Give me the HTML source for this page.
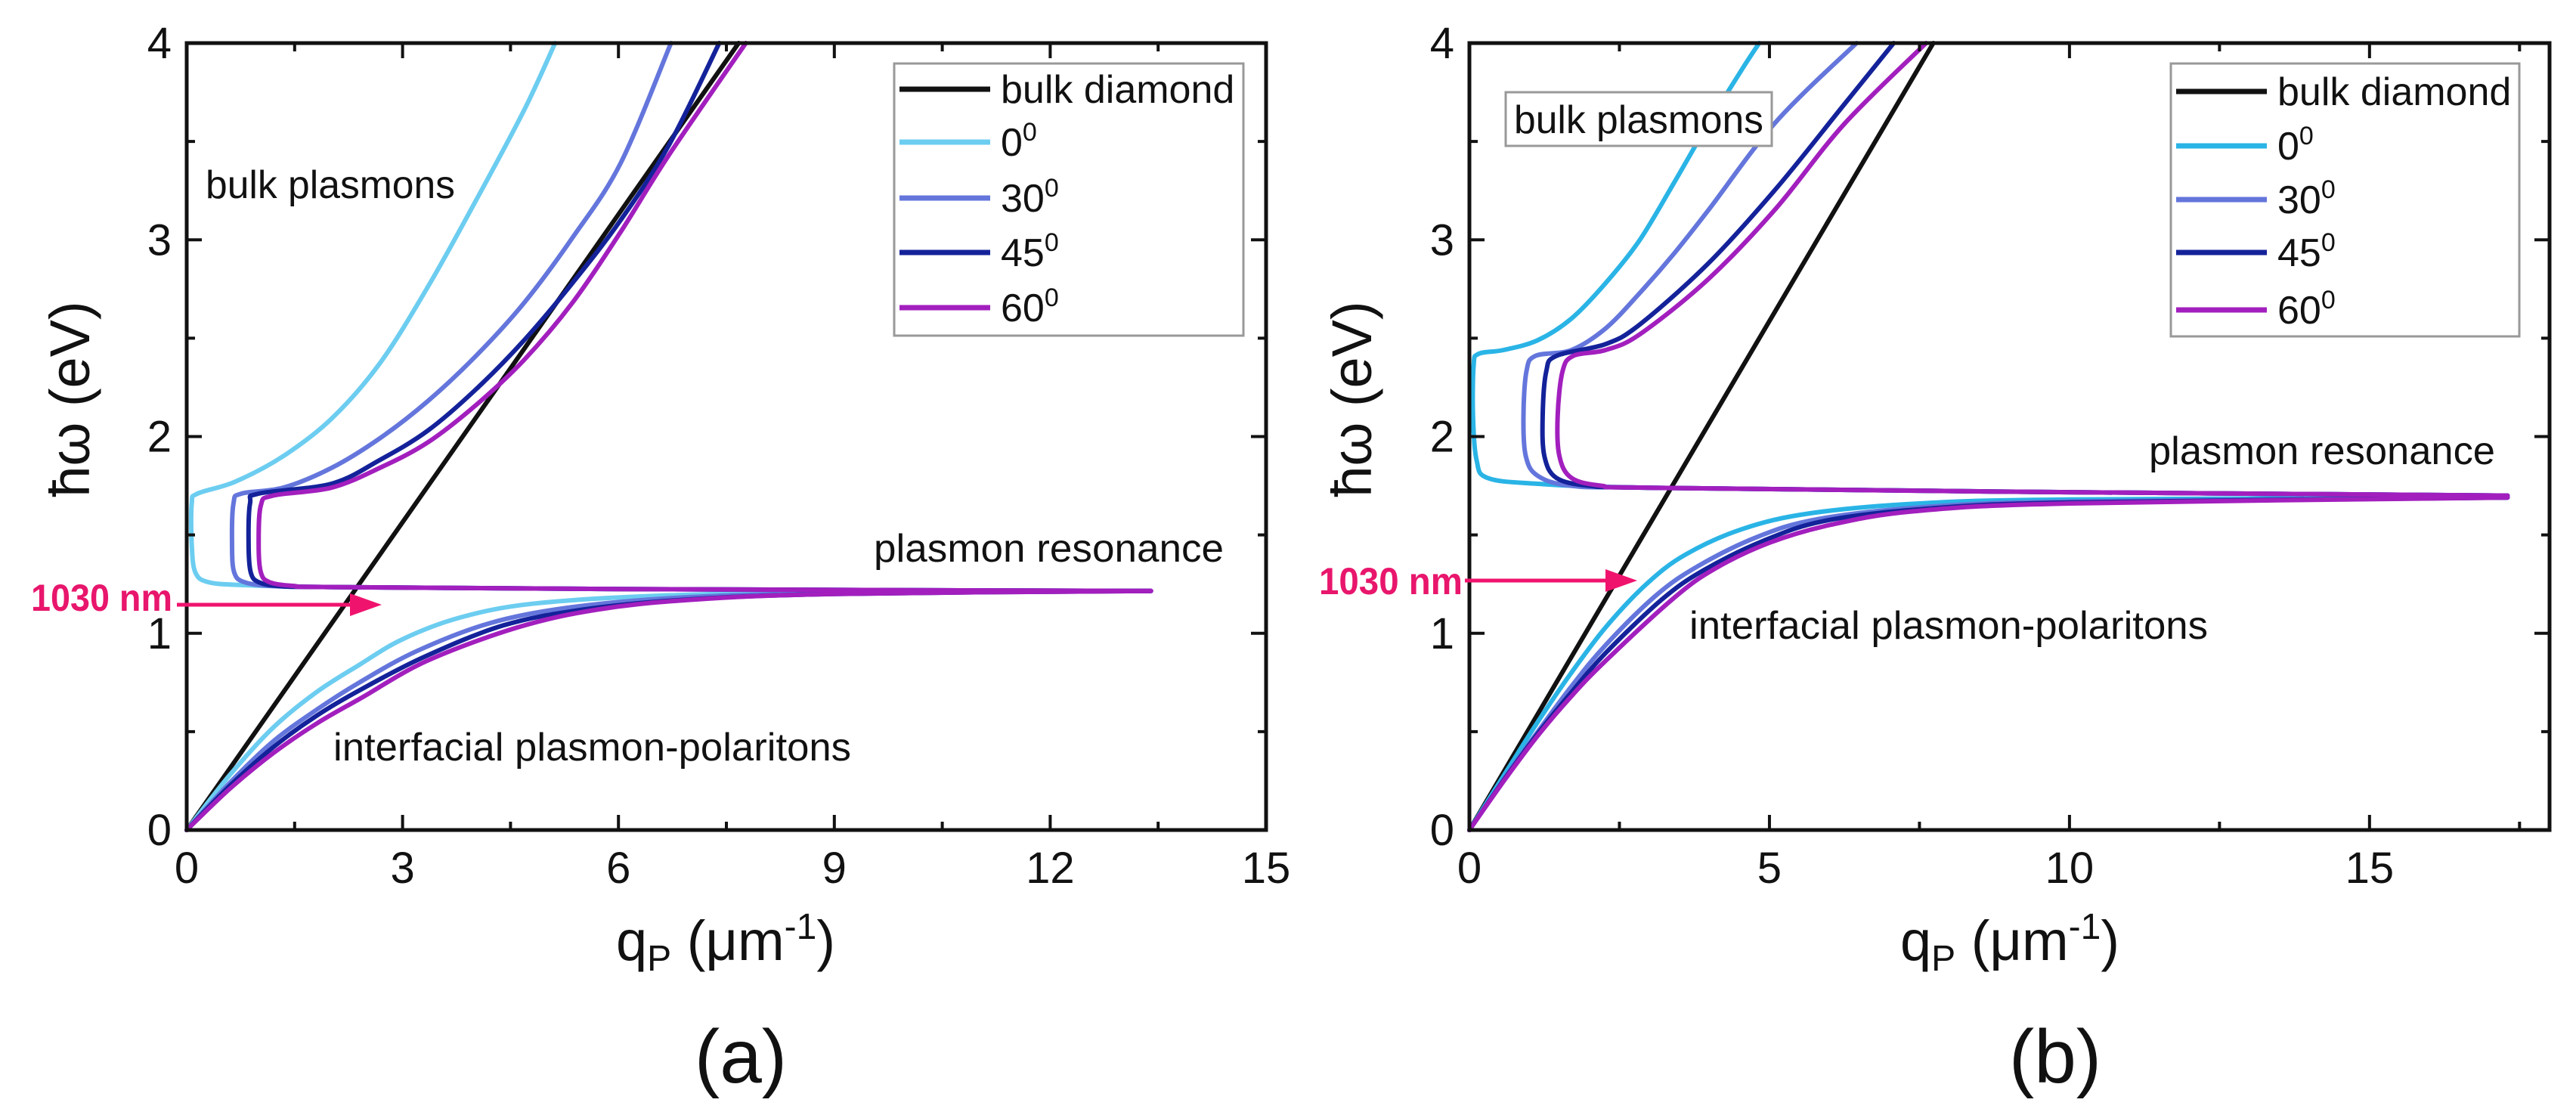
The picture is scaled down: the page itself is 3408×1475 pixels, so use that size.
<!DOCTYPE html>
<html><head><meta charset="utf-8"><style>
html,body{margin:0;padding:0;background:#fff}
svg{display:block}
text{font-family:"Liberation Sans",Arial,sans-serif;fill:#111}
</style></head><body>
<svg id="fig" width="3408" height="1475" viewBox="0 0 3408 1475" xmlns="http://www.w3.org/2000/svg">
<g id="pa"></g>
<g id="pb"></g>
</svg>
<script>
// ---------- Panel (a) data ----------
const aBulk = [[0,0],[7.67,4]];
const aUp0 = [[13.4,1.215],[6,1.225],[2,1.235],[0.8,1.245],[0.3,1.26],[0.12,1.31],[0.07,1.45],[0.07,1.66],[0.15,1.71],[0.67,1.77],[1.34,1.9],[2.01,2.09],[2.68,2.37],[3.35,2.76],[4.02,3.2],[4.69,3.66],[5.12,4.0]];
const aUp30 = [[13.4,1.215],[6,1.225],[2,1.235],[1.2,1.24],[0.8,1.26],[0.66,1.31],[0.63,1.45],[0.65,1.66],[0.76,1.71],[1.34,1.74],[2.01,1.84],[2.68,1.99],[3.35,2.18],[4.02,2.41],[4.69,2.68],[5.36,3.01],[6.03,3.39],[6.73,4.0]];
const aUp45 = [[13.4,1.215],[6,1.225],[2,1.235],[1.3,1.24],[1.0,1.26],[0.89,1.31],[0.86,1.45],[0.88,1.66],[1.0,1.71],[2.01,1.76],[2.68,1.88],[3.35,2.03],[4.02,2.24],[4.69,2.49],[5.36,2.78],[6.03,3.1],[6.7,3.48],[7.4,4.0]];
const aUp60 = [[13.4,1.215],[6,1.225],[2,1.235],[1.5,1.24],[1.15,1.26],[1.03,1.31],[1.0,1.45],[1.03,1.65],[1.2,1.7],[2.01,1.74],[2.68,1.84],[3.35,1.97],[4.02,2.16],[4.69,2.39],[5.36,2.68],[6.03,3.04],[6.7,3.43],[7.77,4.0]];
const aLo0 = [[0,0],[0.6,0.28],[1.2,0.52],[1.8,0.7],[2.4,0.84],[3.0,0.97],[3.8,1.08],[4.8,1.15],[6.5,1.19],[9,1.21],[13.4,1.215]];
const aLo30 = [[0,0],[0.6,0.24],[1.2,0.45],[1.8,0.61],[2.4,0.75],[3.2,0.91],[4.2,1.05],[5.3,1.13],[6.8,1.18],[9,1.205],[13.4,1.215]];
const aLo45 = [[0,0],[0.6,0.225],[1.2,0.42],[1.8,0.58],[2.4,0.71],[3.3,0.88],[4.4,1.04],[5.5,1.12],[6.9,1.17],[9,1.2],[13.4,1.215]];
const aLo60 = [[0,0],[0.6,0.21],[1.2,0.39],[1.8,0.54],[2.42,0.67],[3.34,0.86],[4.6,1.03],[5.7,1.12],[7,1.17],[9,1.2],[13.4,1.215]];
const aXTicks = [0,3,6,9,12,15];
const aYTicks = [0,1,2,3,4];

// ---------- Panel (b) data ----------
const bBulk = [[0,0],[7.73,4]];
const bUp0 = [[17.3,1.7],[8.9,1.72],[3,1.74],[1.14,1.76],[0.3,1.79],[0.12,1.88],[0.06,2.1],[0.07,2.36],[0.15,2.42],[0.57,2.44],[1.14,2.49],[1.7,2.6],[2.27,2.78],[2.84,3.0],[3.41,3.29],[3.98,3.59],[4.55,3.87],[4.83,4.0]];
const bUp30 = [[17.3,1.7],[8.9,1.72],[3,1.74],[1.7,1.75],[1.14,1.8],[0.94,1.9],[0.9,2.1],[0.95,2.33],[1.1,2.41],[1.7,2.44],[2.27,2.55],[2.84,2.73],[3.41,2.93],[3.98,3.15],[5.11,3.6],[6.45,4.0]];
const bUp45 = [[17.3,1.7],[8.9,1.72],[3,1.74],[2.0,1.75],[1.45,1.79],[1.25,1.9],[1.22,2.1],[1.28,2.33],[1.45,2.41],[2.27,2.47],[2.84,2.57],[3.98,2.88],[5.11,3.26],[6.25,3.69],[7.07,4.0]];
const bUp60 = [[17.3,1.7],[8.9,1.72],[3,1.74],[2.2,1.75],[1.7,1.79],[1.5,1.9],[1.47,2.1],[1.55,2.33],[1.73,2.41],[2.27,2.44],[2.84,2.52],[3.98,2.8],[5.11,3.16],[6.25,3.59],[7.61,4.0]];
const bLo0 = [[0,0],[0.6,0.29],[1.14,0.55],[1.7,0.8],[2.27,1.03],[2.95,1.25],[3.6,1.4],[4.55,1.53],[5.68,1.61],[7.5,1.66],[10,1.68],[17.3,1.69]];
const bLo30 = [[0,0],[0.6,0.27],[1.14,0.5],[1.7,0.73],[2.27,0.94],[3.1,1.19],[3.8,1.34],[4.8,1.49],[5.8,1.58],[7.5,1.64],[10,1.67],[17.3,1.69]];
const bLo45 = [[0,0],[0.6,0.265],[1.14,0.49],[1.7,0.7],[2.27,0.9],[3.2,1.17],[3.9,1.32],[4.9,1.47],[5.9,1.57],[7.5,1.63],[10,1.665],[17.3,1.69]];
const bLo60 = [[0,0],[0.6,0.26],[1.14,0.48],[1.7,0.68],[2.27,0.86],[3.41,1.18],[4.1,1.33],[5.0,1.46],[6.0,1.55],[7.4,1.62],[10,1.66],[17.3,1.69]];
const bXTicks = [0,5,10,15];
const bYTicks = [0,1,2,3,4];

const legendLabels = ["bulk diamond","0","30","45","60"];

const NS = "http://www.w3.org/2000/svg";
function mk(tag, attrs, parent){
  const e = document.createElementNS(NS, tag);
  for (const k in attrs) e.setAttribute(k, attrs[k]);
  parent.appendChild(e);
  return e;
}
function smoothPath(pts){
  if (pts.length<3) return 'M'+pts.map(p=>p[0].toFixed(1)+','+p[1].toFixed(1)).join(' L');
  let d = 'M'+pts[0][0].toFixed(1)+','+pts[0][1].toFixed(1);
  for (let i=0;i<pts.length-1;i++){
    const p0 = pts[Math.max(0,i-1)], p1 = pts[i], p2 = pts[i+1], p3 = pts[Math.min(pts.length-1,i+2)];
    const c1 = [p1[0]+(p2[0]-p0[0])/6, p1[1]+(p2[1]-p0[1])/6];
    const c2 = [p2[0]-(p3[0]-p1[0])/6, p2[1]-(p3[1]-p1[1])/6];
    d += ` C${c1[0].toFixed(1)},${c1[1].toFixed(1)} ${c2[0].toFixed(1)},${c2[1].toFixed(1)} ${p2[0].toFixed(1)},${p2[1].toFixed(1)}`;
  }
  return d;
}

function panel(g, cfg){
  const {x0,x1,y0,y1,xmax,xminor,xTicks,yTicks,series,colors} = cfg;
  const sx = v => x0 + v/xmax*(x1-x0);
  const sy = v => y0 - v/4*(y0-y1);
  series.forEach((s,i)=>{
    s.data.forEach((d,j)=>{
      const p = mk('path', {d: smoothPath(d.map(q=>[sx(q[0]),sy(q[1])])), fill:'none', stroke: colors[i], 'stroke-width': 6, 'stroke-linejoin':'round','stroke-linecap':'round'}, g);
      
      
    });
  });
  const fr = mk('rect',{x:x0,y:y1,width:x1-x0,height:y0-y1,fill:'none',stroke:'#111','stroke-width':5},g);
  
  
  for (let v=0; v<=xmax+1e-6; v+=xminor){
    const major = xTicks.some(t=>Math.abs(t-v)<1e-6);
    const L = major?20:11;
    mk('line',{x1:sx(v),x2:sx(v),y1:y0,y2:y0-L,stroke:'#111','stroke-width':4},g);
    mk('line',{x1:sx(v),x2:sx(v),y1:y1,y2:y1+L,stroke:'#111','stroke-width':4},g);
  }
  xTicks.forEach(t=>{
    const tx = mk('text',{x:sx(t),y:1168,'font-size':58,'text-anchor':'middle'},g);
    tx.textContent = t;
    
    
  });
  for (let v=0; v<=4+1e-6; v+=0.5){
    const major = Math.abs(v-Math.round(v))<1e-6;
    const L = major?20:11;
    mk('line',{x1:x0,x2:x0+L,y1:sy(v),y2:sy(v),stroke:'#111','stroke-width':4},g);
    mk('line',{x1:x1,x2:x1-L,y1:sy(v),y2:sy(v),stroke:'#111','stroke-width':4},g);
  }
  yTicks.forEach(t=>{
    const tx = mk('text',{x:x0-20,y:sy(t)+20,'font-size':58,'text-anchor':'end'},g);
    tx.textContent = t;
    
    
  });
}

function legend(g, L, colors){
  const box = mk('rect',{x:L.x,y:L.y,width:L.w,height:L.h,fill:'#fff',stroke:'#999','stroke-width':3},g);
  
  
  legendLabels.forEach((lab,i)=>{
    const yy = L.ys[i];
    const ln = mk('line',{x1:L.lx,x2:L.lx+120,y1:yy,y2:yy,stroke:colors[i],'stroke-width':7},g);
    
    
    const t = mk('text',{x:L.tx,y:yy+18,'font-size':52},g);
    
    
    t.textContent = lab;
    if (i>0){
      const sup = mk('tspan',{dy:-20,'font-size':34},t);
      sup.textContent = '0';
    }
  });
}

function label(g, txt, x, y, w, size, name){
  const t = mk('text',{x:x,y:y,'font-size':size,textLength:w,lengthAdjust:'spacingAndGlyphs'},g);
  t.textContent = txt;
  
  
  return t;
}

function arrowAndAxes(g, ax){
  const a = mk('g',{},g);
  
  
  mk('line',{x1:ax.ax0,x2:ax.ax1-30,y1:ax.ay,y2:ax.ay,stroke:'#f0136e','stroke-width':5},a);
  mk('polygon',{points:`${ax.ax1},${ax.ay} ${ax.ax1-42},${ax.ay-15} ${ax.ax1-42},${ax.ay+15}`,fill:'#f0136e'},a);
  const t = mk('text',{x:ax.tx,y:ax.ty,'font-size':50,'font-weight':'bold',textLength:ax.tw,lengthAdjust:'spacingAndGlyphs'},g);
  t.style.fill='#e8166c';
  t.textContent='1030 nm';
  
  
  const yt = mk('text',{x:0,y:0,'font-size':74,'text-anchor':'middle',transform:`translate(${ax.yx},${ax.yy}) rotate(-90)`},g);
  yt.textContent='ħω (eV)';
  
  
  const xt = mk('text',{x:ax.xx,y:1270,'font-size':74,'text-anchor':'middle'},g);
  
  
  xt.textContent='q';
  const s1 = mk('tspan',{dy:14,'font-size':48},xt); s1.textContent='P';
  const s2 = mk('tspan',{dy:-14},xt); s2.textContent=' (μm';
  const s3 = mk('tspan',{dy:-28,'font-size':48},xt); s3.textContent='-1';
  const s4 = mk('tspan',{dy:28},xt); s4.textContent=')';
  const pl = mk('text',{x:ax.px,y:1432,'font-size':100,'text-anchor':'middle'},g);
  pl.textContent = ax.plabel;
  
  
}

const colA = ['#111111','#6ccdf0','#6476dc','#14229a','#a21fbe'];
const colB = ['#111111','#2ab4e6','#6476dc','#14229a','#a21fbe'];

const ga = document.getElementById('pa');
panel(ga,{x0:247,x1:1675,y0:1098,y1:57,xmax:15,xminor:1.5,xTicks:aXTicks,yTicks:aYTicks,colors:colA,
  series:[{name:'bulk-diamond',data:[aBulk]},{name:'angle-0',data:[aUp0,aLo0]},{name:'angle-30',data:[aUp30,aLo30]},{name:'angle-45',data:[aUp45,aLo45]},{name:'angle-60',data:[aUp60,aLo60]}]});
legend(ga,{x:1183,y:84,w:462,h:360,lx:1190,tx:1324,ys:[118,188,262,334,407]},colA);
label(ga,'bulk plasmons',272,262,330,52,'bulk-plasmons-label');
label(ga,'plasmon resonance',1156,743,463,52,'plasmon-resonance-label');
label(ga,'interfacial plasmon-polaritons',441,1006,685,52,'interfacial-label');
arrowAndAxes(ga,{ax0:234,ax1:505,ay:800,tx:41,ty:808,tw:187,yx:118,yy:528,xx:960,px:980,plabel:'(a)'});

const gb = document.getElementById('pb');
panel(gb,{x0:1944,x1:3373,y0:1098,y1:57,xmax:18,xminor:2.5,xTicks:bXTicks,yTicks:bYTicks,colors:colB,
  series:[{name:'bulk-diamond',data:[bBulk]},{name:'angle-0',data:[bUp0,bLo0]},{name:'angle-30',data:[bUp30,bLo30]},{name:'angle-45',data:[bUp45,bLo45]},{name:'angle-60',data:[bUp60,bLo60]}]});
legend(gb,{x:2872,y:84,w:461,h:361,lx:2879,tx:3013,ys:[121,193,264,334,410]},colB);
const bx = mk('rect',{x:1992,y:122,width:352,height:71,fill:'#fff',stroke:'#999','stroke-width':3},gb);


label(gb,'bulk plasmons',2003,176,330,52,'bulk-plasmons-label');
label(gb,'plasmon resonance',2843,614,458,52,'plasmon-resonance-label');
label(gb,'interfacial plasmon-polaritons',2235,845,686,52,'interfacial-label');
arrowAndAxes(gb,{ax0:1938,ax1:2166,ay:768,tx:1745,ty:786,tw:190,yx:1814,yy:528,xx:2659,px:2719,plabel:'(b)'});
</script>
</body></html>
